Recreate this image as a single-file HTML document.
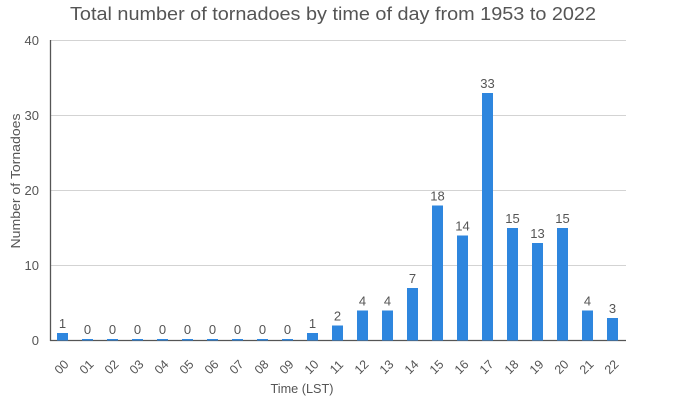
<!DOCTYPE html>
<html><head><meta charset="utf-8"><style>
html,body{margin:0;padding:0;background:#fff;}
svg{display:block;font-family:"Liberation Sans",sans-serif;}
</style></head><body>
<svg width="675" height="400" viewBox="0 0 675 400" xmlns="http://www.w3.org/2000/svg">
<rect width="675" height="400" fill="#fff"/>
<text x="333" y="20" font-size="18" fill="#555" text-anchor="middle" textLength="526" lengthAdjust="spacingAndGlyphs">Total number of tornadoes by time of day from 1953 to 2022</text>
<g stroke="#d3d3d3" stroke-width="1">
<line x1="50" y1="40.5" x2="626" y2="40.5"/>
<line x1="50" y1="115.5" x2="626" y2="115.5"/>
<line x1="50" y1="190.5" x2="626" y2="190.5"/>
<line x1="50" y1="265.5" x2="626" y2="265.5"/>
</g>
<g font-size="13" fill="#555" text-anchor="end">
<text x="39" y="45">40</text>
<text x="39" y="120">30</text>
<text x="39" y="195">20</text>
<text x="39" y="270">10</text>
<text x="39" y="345">0</text>
</g>
<text transform="translate(20,181) rotate(-90)" font-size="13" fill="#555" text-anchor="middle" textLength="135" lengthAdjust="spacingAndGlyphs">Number of Tornadoes</text>
<text x="302" y="393" font-size="12.5" fill="#555" text-anchor="middle" textLength="63" lengthAdjust="spacingAndGlyphs">Time (LST)</text>
<line x1="50.5" y1="40" x2="50.5" y2="341" stroke="#555" stroke-width="1.3"/>
<line x1="50" y1="340.5" x2="626" y2="340.5" stroke="#555" stroke-width="1.3"/>
<g fill="#2e86de">
<rect x="57" y="333" width="11" height="7.5"/>
<rect x="82" y="339" width="11" height="1.5"/>
<rect x="107" y="339" width="11" height="1.5"/>
<rect x="132" y="339" width="11" height="1.5"/>
<rect x="157" y="339" width="11" height="1.5"/>
<rect x="182" y="339" width="11" height="1.5"/>
<rect x="207" y="339" width="11" height="1.5"/>
<rect x="232" y="339" width="11" height="1.5"/>
<rect x="257" y="339" width="11" height="1.5"/>
<rect x="282" y="339" width="11" height="1.5"/>
<rect x="307" y="333" width="11" height="7.5"/>
<rect x="332" y="325.5" width="11" height="15"/>
<rect x="357" y="310.5" width="11" height="30"/>
<rect x="382" y="310.5" width="11" height="30"/>
<rect x="407" y="288" width="11" height="52.5"/>
<rect x="432" y="205.5" width="11" height="135"/>
<rect x="457" y="235.5" width="11" height="105"/>
<rect x="482" y="93" width="11" height="247.5"/>
<rect x="507" y="228" width="11" height="112.5"/>
<rect x="532" y="243" width="11" height="97.5"/>
<rect x="557" y="228" width="11" height="112.5"/>
<rect x="582" y="310.5" width="11" height="30"/>
<rect x="607" y="318" width="11" height="22.5"/>
</g>
<g font-size="13" fill="#555" text-anchor="middle">
<text x="62.5" y="328">1</text>
<text x="87.5" y="334">0</text>
<text x="112.5" y="334">0</text>
<text x="137.5" y="334">0</text>
<text x="162.5" y="334">0</text>
<text x="187.5" y="334">0</text>
<text x="212.5" y="334">0</text>
<text x="237.5" y="334">0</text>
<text x="262.5" y="334">0</text>
<text x="287.5" y="334">0</text>
<text x="312.5" y="328">1</text>
<text x="337.5" y="320.5">2</text>
<text x="362.5" y="305.5">4</text>
<text x="387.5" y="305.5">4</text>
<text x="412.5" y="283">7</text>
<text x="437.5" y="200.5">18</text>
<text x="462.5" y="230.5">14</text>
<text x="487.5" y="88">33</text>
<text x="512.5" y="223">15</text>
<text x="537.5" y="238">13</text>
<text x="562.5" y="223">15</text>
<text x="587.5" y="305.5">4</text>
<text x="612.5" y="313">3</text>
</g>
<g font-size="12.5" fill="#555" text-anchor="middle">
<text transform="translate(64.5,370) rotate(-45)">00</text>
<text transform="translate(89.5,370) rotate(-45)">01</text>
<text transform="translate(114.5,370) rotate(-45)">02</text>
<text transform="translate(139.5,370) rotate(-45)">03</text>
<text transform="translate(164.5,370) rotate(-45)">04</text>
<text transform="translate(189.5,370) rotate(-45)">05</text>
<text transform="translate(214.5,370) rotate(-45)">06</text>
<text transform="translate(239.5,370) rotate(-45)">07</text>
<text transform="translate(264.5,370) rotate(-45)">08</text>
<text transform="translate(289.5,370) rotate(-45)">09</text>
<text transform="translate(314.5,370) rotate(-45)">10</text>
<text transform="translate(339.5,370) rotate(-45)">11</text>
<text transform="translate(364.5,370) rotate(-45)">12</text>
<text transform="translate(389.5,370) rotate(-45)">13</text>
<text transform="translate(414.5,370) rotate(-45)">14</text>
<text transform="translate(439.5,370) rotate(-45)">15</text>
<text transform="translate(464.5,370) rotate(-45)">16</text>
<text transform="translate(489.5,370) rotate(-45)">17</text>
<text transform="translate(514.5,370) rotate(-45)">18</text>
<text transform="translate(539.5,370) rotate(-45)">19</text>
<text transform="translate(564.5,370) rotate(-45)">20</text>
<text transform="translate(589.5,370) rotate(-45)">21</text>
<text transform="translate(614.5,370) rotate(-45)">22</text>
</g>
</svg>
</body></html>
